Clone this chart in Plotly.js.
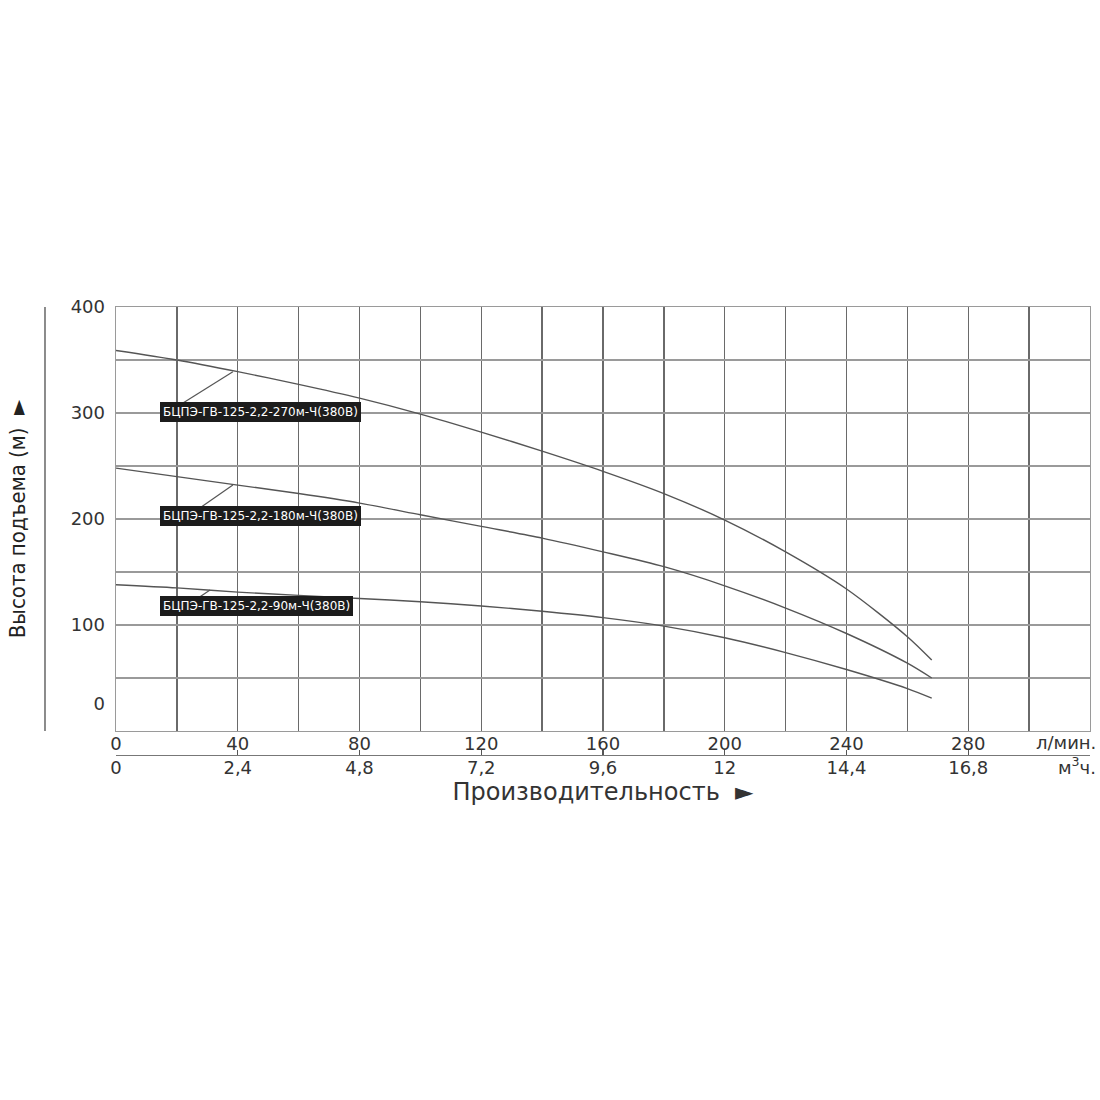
<!DOCTYPE html>
<html>
<head>
<meta charset="utf-8">
<script src="https://cdn.plot.ly/plotly-3.0.1.min.js"></script>
<style>
html,body{margin:0;padding:0;background:#fff;}
#chart{width:1100px;height:1100px;}
.y2title{font-stretch:condensed;}
</style>
</head>
<body>
<div id="chart"></div>
<script>
// Flow, l/min
var flow = [0, 20, 40, 60, 80, 100, 120, 140, 160, 180, 200, 220, 240, 260, 268];
// Head, m
var head270 = [359, 350, 339, 327, 314, 299, 282, 264, 245, 224, 199, 169, 134, 89, 67];
var head180 = [248, 240, 232, 224, 215, 204, 193, 182, 169, 155, 137, 116, 92, 64, 50];
var head90  = [138, 135, 131, 128, 125, 122, 118, 113, 107, 99, 88, 74, 58, 40, 31];

var seriesNames = ['БЦПЭ-ГВ-125-2,2-270м-Ч(380В)', 'БЦПЭ-ГВ-125-2,2-180м-Ч(380В)', 'БЦПЭ-ГВ-125-2,2-90м-Ч(380В)'];

var lpmTicks = [0, 40, 80, 120, 160, 200, 240, 280];
var lpmText = ['0', '40', '80', '120', '160', '200', '240', '280'];
var m3hText = ['0', '2,4', '4,8', '7,2', '9,6', '12', '14,4', '16,8'];
var headTicks = [26, 100, 200, 300, 400];
var headText = ['0', '100', '200', '300', '400'];

var curveColor = '#555555';
var tickFont = {family: 'DejaVu Sans, Liberation Sans, sans-serif', size: 18, color: '#333333'};

var traces = [
  {x: flow, y: head270, name: seriesNames[0], mode: 'lines', line: {color: curveColor, width: 1.4, shape: 'spline', smoothing: 0.8}, xaxis: 'x', yaxis: 'y', hoverinfo: 'x+y+name'},
  {x: flow, y: head180, name: seriesNames[1], mode: 'lines', line: {color: curveColor, width: 1.4, shape: 'spline', smoothing: 0.8}, xaxis: 'x2', yaxis: 'y', hoverinfo: 'x+y+name'},
  {x: flow, y: head90, name: seriesNames[2], mode: 'lines', line: {color: curveColor, width: 1.4, shape: 'spline', smoothing: 0.8}, xaxis: 'x', yaxis: 'y2', hoverinfo: 'x+y+name'}
];

var yBottom = 0.094;
var labelFont = {family: 'DejaVu Sans, sans-serif', size: 12, color: '#ffffff'};

var layout = {
  width: 1100, height: 1100,
  margin: {l: 116, r: 10, t: 307, b: 325},
  paper_bgcolor: '#ffffff', plot_bgcolor: '#ffffff',
  showlegend: false,
  xaxis: {
    range: [0, 320], tickmode: 'array', tickvals: lpmTicks, ticktext: lpmText,
    ticks: '', showgrid: true, gridcolor: '#6a6a6a', gridwidth: 1.4,
    minor: {dtick: 20, tick0: 0, showgrid: true, gridcolor: '#6a6a6a', gridwidth: 1.4, ticks: ''},
    showline: true, linecolor: '#9a9a9a', linewidth: 1.4, mirror: true,
    zeroline: false, tickfont: tickFont, anchor: 'y', fixedrange: true, ticklabelstandoff: -4
  },
  xaxis2: {
    range: [0, 320], overlaying: 'x', anchor: 'free', position: 0.0427, side: 'bottom',
    tickmode: 'array', tickvals: lpmTicks, ticktext: m3hText,
    ticks: 'inside', ticklen: 5, tickcolor: '#555555', tickwidth: 1.2,
    showgrid: false, zeroline: false, showline: true, linecolor: '#777777', linewidth: 1.2,
    tickfont: tickFont, fixedrange: true, ticklabelstandoff: -4,
    title: {text: 'Производительность  ►', font: {family: 'DejaVu Sans, sans-serif', size: 24, color: '#333333'}, standoff: 0}
  },
  yaxis: {
    range: [0, 400], domain: [yBottom, 1], dtick: 50, tick0: 0,
    showticklabels: false, ticks: '', showgrid: true, gridcolor: '#9a9a9a', gridwidth: 1.4,
    showline: true, linecolor: '#9a9a9a', linewidth: 1.4, mirror: true,
    zeroline: false, fixedrange: true
  },
  yaxis2: {
    range: [0, 400], overlaying: 'y', side: 'left', anchor: 'x',
    tickmode: 'array', tickvals: headTicks, ticktext: headText,
    ticks: '', showgrid: false, zeroline: false, showline: false,
    tickfont: tickFont, ticklabelstandoff: 10, fixedrange: true,
    title: {text: 'Высота подъема (м)  ►', font: {family: 'DejaVu Sans Condensed, Liberation Sans Narrow, sans-serif', size: 22, color: '#222222'}, standoff: 38}
  },
  shapes: [
    {type: 'line', xref: 'paper', yref: 'paper', x0: -0.0729, x1: -0.0729, y0: yBottom, y1: 1, line: {color: '#666666', width: 1.5}},
    {type: 'line', xref: 'x', yref: 'y', x0: 22, y0: 309.4, x1: 38.4, y1: 339, line: {color: '#555555', width: 1.2}},
    {type: 'line', xref: 'x', yref: 'y', x0: 26.6, y0: 208.5, x1: 38.4, y1: 232, line: {color: '#555555', width: 1.2}},
    {type: 'line', xref: 'x', yref: 'y', x0: 26, y0: 123.6, x1: 30.9, y1: 133, line: {color: '#555555', width: 1.2}}
  ],
  annotations: [
    {text: seriesNames[0], x: 14.5, y: 301.4, xref: 'x', yref: 'y', xanchor: 'left', yanchor: 'middle', showarrow: false, bgcolor: '#1c1c1c', bordercolor: '#1c1c1c', borderpad: 2, font: labelFont},
    {text: seriesNames[1], x: 14.5, y: 202.4, xref: 'x', yref: 'y', xanchor: 'left', yanchor: 'middle', showarrow: false, bgcolor: '#1c1c1c', bordercolor: '#1c1c1c', borderpad: 2, font: labelFont},
    {text: seriesNames[2], x: 14.5, y: 117.5, xref: 'x', yref: 'y', xanchor: 'left', yanchor: 'middle', showarrow: false, bgcolor: '#1c1c1c', bordercolor: '#1c1c1c', borderpad: 2, font: labelFont},
    {text: 'л/мин.', x: 1.008, y: 0.0705, xref: 'paper', yref: 'paper', xanchor: 'right', yanchor: 'middle', showarrow: false, font: tickFont},
    {text: 'м<sup>3</sup>ч.', x: 1.008, y: 0.019, xref: 'paper', yref: 'paper', xanchor: 'right', yanchor: 'middle', showarrow: false, font: tickFont}
  ]
};

Plotly.newPlot('chart', traces, layout, {displayModeBar: false, staticPlot: true});
</script>
</body>
</html>
